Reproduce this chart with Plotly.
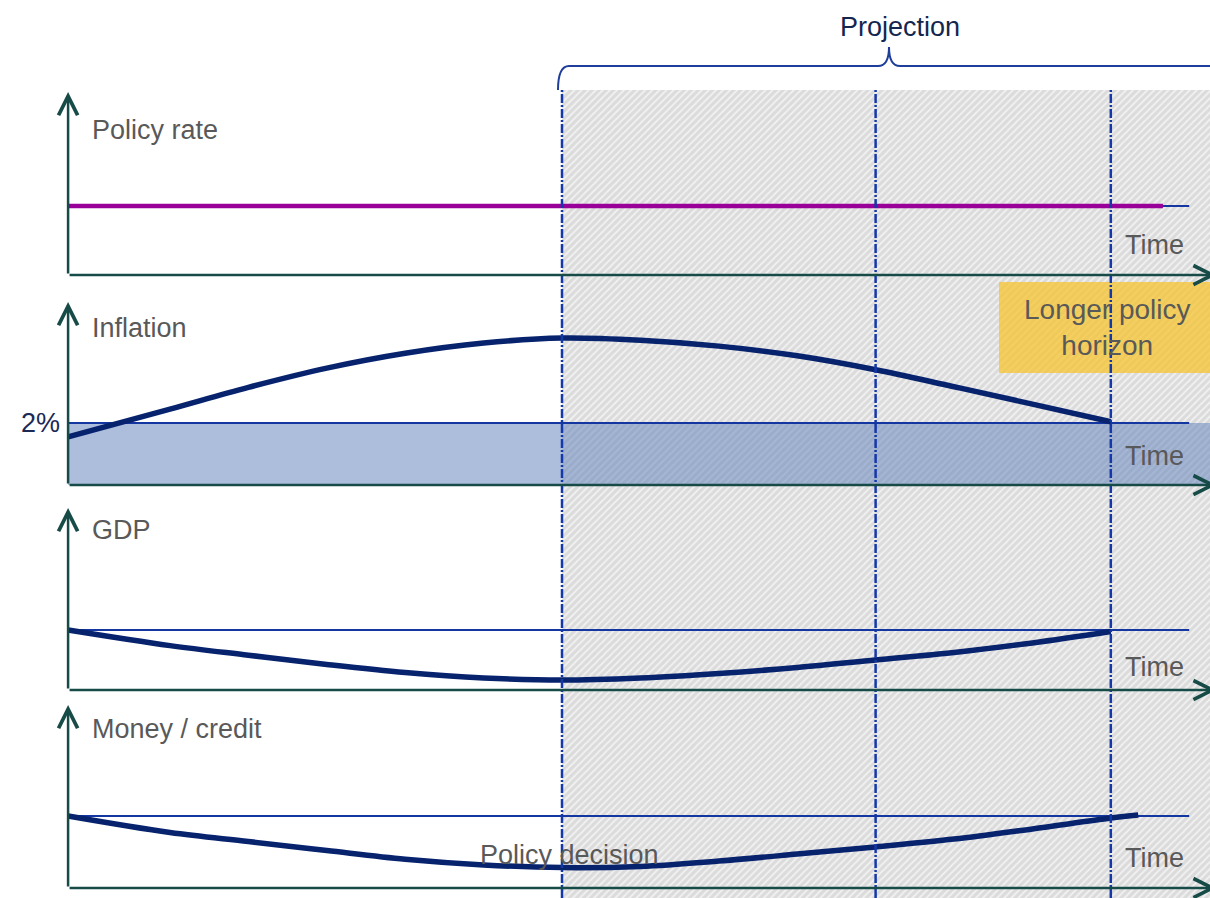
import plotly.graph_objects as go

W, H = 1210, 898

# ---- time axis: quarters relative to the policy decision ----
t_origin = -12.6                 # start of each panel's time axis
quarter_marks = [0, 8, 14]       # policy decision, mid-projection, policy horizon
t_axis_end = 16.7                # tip of the time arrows
t_baseline_end = 16.0            # end of the thin reference lines
t_policy_rate_end = 15.33        # end of the policy-rate path

# ---- panel series ----
policy_rate_level = 2.3

inflation_t = [-12.6, -10, -8, -6, -4, -2, 0, 2, 4, 6, 8, 10, 12, 14]
inflation_v = [1.55, 2.45, 3.15, 3.77, 4.25, 4.58, 4.74, 4.67, 4.48, 4.17, 3.72, 3.17, 2.61, 2.04]
inflation_target = 2.0

gdp_t = [-12.6, -10, -8, -6, -4, -2, 0, 2, 4, 6, 8, 10, 12, 14]
gdp_v = [0.0, -0.52, -0.84, -1.15, -1.42, -1.60, -1.67, -1.60, -1.45, -1.25, -1.00, -0.75, -0.43, -0.05]
gdp_trend = 0.0

money_t = [-12.6, -10, -8, -6, -4, -2, 0, 2, 4, 6, 8, 10, 12, 14, 14.7]
money_v = [0.0, -0.55, -0.85, -1.15, -1.44, -1.63, -1.72, -1.68, -1.50, -1.27, -1.03, -0.77, -0.43, -0.07, 0.03]
money_trend = 0.0

panel_titles = ["Policy rate", "Inflation", "GDP", "Money / credit"]
axis_label = "Time"
target_label = "2%"

# ---- layout geometry (pixels) ----
decision_px = 562.0
px_per_quarter = 39.2
panels = [
    # x-axis pixel row, arrow-top pixel row, value at x-axis, pixels per unit
    dict(axis_px=275, top_px=92, lo=0.0, scale=30.0, title_px=130, time_px=245),
    dict(axis_px=485, top_px=302, lo=0.0, scale=31.0, title_px=328, time_px=456),
    dict(axis_px=690, top_px=508, lo=-2.0, scale=30.0, title_px=530, time_px=667),
    dict(axis_px=888, top_px=705, lo=-2.4, scale=30.0, title_px=729, time_px=858),
]


def fx(px):
    return px / W


def fy(py):
    return 1 - py / H


x_range = [(0 - decision_px) / px_per_quarter, (W - decision_px) / px_per_quarter]

AXIS_COL = "#174b47"
REF_COL = "#1436a0"
CURVE_COL = "#07236e"
TEXT_COL = "#595959"
FONT = "Liberation Sans, Arial, sans-serif"

fig = go.Figure()

# backdrop: hatched projection area (first subplot, drawn underneath)
hatch_top = fy(90)
fig.add_trace(go.Scatter(
    x=[0, x_range[1] + 1, x_range[1] + 1, 0, 0],
    y=[-0.01, -0.01, hatch_top, hatch_top, -0.01],
    xaxis="x", yaxis="y", mode="lines", fill="toself",
    line=dict(width=0), fillcolor="rgba(0,0,0,0)",
    fillpattern=dict(shape="/", bgcolor="#dbdbdb", fgcolor="#f1f1f1",
                     size=5, solidity=0.4, fillmode="replace"),
    hoverinfo="skip", showlegend=False,
))

# panel 1: policy rate
fig.add_trace(go.Scatter(x=[t_origin, t_baseline_end], y=[policy_rate_level] * 2,
                         xaxis="x", yaxis="y2", mode="lines",
                         line=dict(color=REF_COL, width=2), showlegend=False, hoverinfo="skip"))
fig.add_trace(go.Scatter(x=[t_origin, t_policy_rate_end], y=[policy_rate_level] * 2,
                         xaxis="x", yaxis="y2", mode="lines",
                         line=dict(color="#990099", width=4.5), showlegend=False, hoverinfo="skip"))

# panel 2: inflation with target band
fig.add_trace(go.Scatter(x=[t_origin, x_range[1] + 1], y=[inflation_target] * 2,
                         xaxis="x", yaxis="y3", mode="lines", fill="tozeroy",
                         fillcolor="rgba(92,124,186,0.5)", line=dict(width=0),
                         showlegend=False, hoverinfo="skip"))
fig.add_trace(go.Scatter(x=[t_origin, t_baseline_end], y=[inflation_target] * 2,
                         xaxis="x", yaxis="y3", mode="lines",
                         line=dict(color=REF_COL, width=2), showlegend=False, hoverinfo="skip"))
fig.add_trace(go.Scatter(x=inflation_t, y=inflation_v, xaxis="x", yaxis="y3", mode="lines",
                         line=dict(color=CURVE_COL, width=5.5, shape="spline", smoothing=1.0),
                         showlegend=False, hoverinfo="skip"))

# panel 3: GDP
fig.add_trace(go.Scatter(x=[t_origin, t_baseline_end], y=[gdp_trend] * 2,
                         xaxis="x", yaxis="y4", mode="lines",
                         line=dict(color=REF_COL, width=2), showlegend=False, hoverinfo="skip"))
fig.add_trace(go.Scatter(x=gdp_t, y=gdp_v, xaxis="x", yaxis="y4", mode="lines",
                         line=dict(color=CURVE_COL, width=5.5, shape="spline", smoothing=1.0),
                         showlegend=False, hoverinfo="skip"))

# panel 4: money / credit
fig.add_trace(go.Scatter(x=[t_origin, t_baseline_end], y=[money_trend] * 2,
                         xaxis="x", yaxis="y5", mode="lines",
                         line=dict(color=REF_COL, width=2), showlegend=False, hoverinfo="skip"))
fig.add_trace(go.Scatter(x=money_t, y=money_v, xaxis="x", yaxis="y5", mode="lines",
                         line=dict(color=CURVE_COL, width=5.5, shape="spline", smoothing=1.0),
                         showlegend=False, hoverinfo="skip"))

layout_axes = dict(
    xaxis=dict(range=x_range, domain=[0, 1], visible=False, anchor="y"),
    yaxis=dict(range=[0, 1], domain=[0, 1], visible=False),
)
annotations = []
for i, p in enumerate(panels):
    name = f"yaxis{i + 2}"
    ref = f"y{i + 2}"
    hi = p["lo"] + (p["axis_px"] - p["top_px"]) / p["scale"]
    layout_axes[name] = dict(range=[p["lo"], hi], domain=[fy(p["axis_px"]), fy(p["top_px"])],
                             visible=False)
    arrow = dict(text="", showarrow=True, arrowhead=5, arrowsize=1.5, arrowwidth=2.5,
                 arrowcolor=AXIS_COL, xref="x", yref=ref, axref="x", ayref=ref, standoff=0)
    # vertical value axis
    annotations.append(dict(arrow, x=t_origin, y=hi, ax=t_origin, ay=p["lo"]))
    # horizontal time axis
    annotations.append(dict(arrow, x=t_axis_end, y=p["lo"], ax=t_origin, ay=p["lo"]))
    # panel title and time label
    annotations.append(dict(text=panel_titles[i], x=fx(90), y=fy(p["title_px"]),
                            xref="paper", yref="paper", xanchor="left", yanchor="middle",
                            showarrow=False, font=dict(family=FONT, size=27, color=TEXT_COL)))
    annotations.append(dict(text=axis_label, x=fx(1154), y=fy(p["time_px"]),
                            xref="paper", yref="paper", xanchor="center", yanchor="middle",
                            showarrow=False, font=dict(family=FONT, size=27, color=TEXT_COL)))

# target label on the inflation axis
annotations.append(dict(text=target_label, x=fx(62), y=inflation_target, xref="paper", yref="y3",
                        xanchor="right", yanchor="middle", showarrow=False,
                        font=dict(family=FONT, size=27, color="#1b2a55")))
# projection heading
annotations.append(dict(text="Projection", x=fx(900), y=fy(27), xref="paper", yref="paper",
                        xanchor="center", yanchor="middle", showarrow=False,
                        font=dict(family=FONT, size=27, color="#14264f")))
# policy horizon box text
annotations.append(dict(text="Longer policy<br>horizon", x=fx(1107), y=fy(328),
                        xref="paper", yref="paper", xanchor="center", yanchor="middle",
                        showarrow=False, align="center",
                        font=dict(family=FONT, size=28, color=TEXT_COL)))
# policy decision label
annotations.append(dict(text="Policy decision", x=0, y=fy(855), xref="x", yref="paper",
                        xanchor="center", yanchor="middle", xshift=7, showarrow=False,
                        font=dict(family=FONT, size=27, color=TEXT_COL)))

shapes = []
# policy horizon box
shapes.append(dict(type="rect", xref="paper", yref="paper", x0=fx(999), x1=1.0,
                   y0=fy(373), y1=fy(282), fillcolor="rgba(247,196,40,0.72)",
                   line=dict(width=0), layer="above"))
# dash-dot quarter markers
for q in quarter_marks:
    shapes.append(dict(type="line", xref="x", yref="paper", x0=q, x1=q, y0=0, y1=hatch_top,
                       line=dict(color="#1538a8", width=2.5, dash="9px,2px,2px,2px"),
                       layer="above"))
# brace above the projection period
bx0, bmid, by_line, by_peak, by_foot = 558, 889, 66, 47, 90
brace = (f"M{fx(bx0)},{fy(by_foot)} Q{fx(bx0)},{fy(by_line)} {fx(bx0 + 11)},{fy(by_line)} "
         f"L{fx(bmid - 11)},{fy(by_line)} Q{fx(bmid)},{fy(by_line)} {fx(bmid)},{fy(by_peak)} "
         f"Q{fx(bmid)},{fy(by_line)} {fx(bmid + 11)},{fy(by_line)} L1.0,{fy(by_line)}")
shapes.append(dict(type="path", xref="paper", yref="paper", path=brace,
                   line=dict(color="#1f3d9a", width=2), layer="above"))

fig.update_layout(
    width=W, height=H,
    margin=dict(l=0, r=0, t=0, b=0),
    paper_bgcolor="white", plot_bgcolor="rgba(0,0,0,0)",
    showlegend=False, hovermode=False,
    annotations=annotations, shapes=shapes,
    **layout_axes,
)

fig.write_html("out.html")
